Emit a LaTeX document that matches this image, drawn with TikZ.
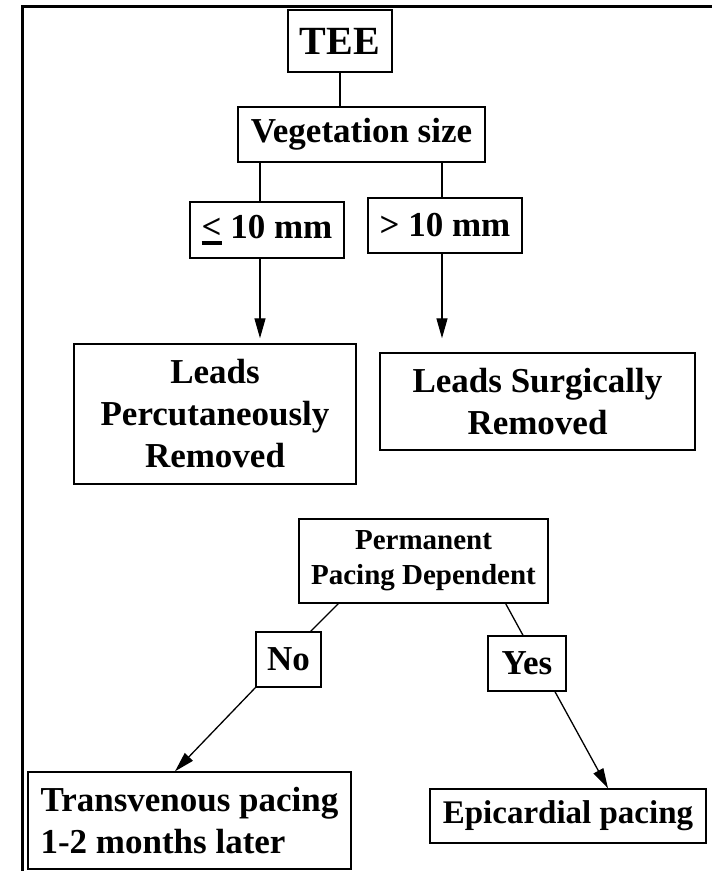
\documentclass[tikz,border=0pt]{standalone}
\usepackage{fontspec}
\setmainfont{Liberation Serif}
\usetikzlibrary{arrows.meta, positioning, calc}
\tikzset{
  bx/.style={rectangle, draw=black, line width=1.4pt, inner sep=0pt,
    align=center, font=\bfseries\fontsize{35}{42}\selectfont},
  bxS/.style={bx, font=\bfseries\fontsize{29}{35}\selectfont},
  bxL/.style={bx, font=\bfseries\fontsize{40}{48}\selectfont},
  ln/.style={line width=1.3pt},
  arr/.style={ln, -{Triangle[length=20pt, width=11pt]}},
}

\begin{document}
\begin{tikzpicture}[x=1pt, y=-1pt]
  \useasboundingbox (0,0) rectangle (712,871);
  \draw[line width=3pt] (22,871) -- (22,6) -- (712,6);

  % removal part
  \node[bxL, minimum width=104pt, minimum height=62pt] (tee) at (340,41) {TEE};
  \node[bx, minimum width=247pt, minimum height=55pt] (veg) at (361.5,134.5)
       {Vegetation size};
  \node[bx, minimum width=154pt, minimum height=56pt] (le) at (267,230)
       {\rlap{\rule[-7pt]{20pt}{4pt}}< 10 mm};
  \node[bx, minimum width=154pt, minimum height=55pt] (gt) at (445,225.5)
       {> 10 mm};
  \node[bx, minimum width=282pt, minimum height=140pt] (pct) at (215,414)
       {Leads\\Percutaneously\\Removed};
  \node[bx, minimum width=315pt, minimum height=97pt] (srg) at (537.5,401.5)
       {Leads Surgically\\Removed};

  % pacing part
  \node[bxS, minimum width=249pt, minimum height=84pt] (perm) at (423.5,561)
       {Permanent\\Pacing Dependent};
  \node[bx, minimum width=65pt, minimum height=55pt] (no) at (288.5,659.5) {No};
  \node[bx, minimum width=78pt, minimum height=55pt] (yes) at (527,663.5) {Yes};
  \node[bx, align=left, minimum width=323pt, minimum height=97pt] (trv) at (189.5,820.5)
       {Transvenous pacing\\1-2 months later};
  \node[bx, font=\bfseries\fontsize{33}{40}\selectfont,
        minimum width=276pt, minimum height=54pt] (epi) at (568,816)
       {Epicardial pacing};

  \draw[ln] (tee.south) -- (tee.south |- veg.north);
  \draw[ln] ([xshift=-7pt]le.north |- veg.south) -- ([xshift=-7pt]le.north);
  \draw[ln] ([xshift=-3pt]gt.north |- veg.south) -- ([xshift=-3pt]gt.north);
  \draw[arr, shorten >=5pt] ([xshift=-7pt]le.south) -- ([xshift=-7pt]le.south |- pct.north);
  \draw[arr, shorten >=14pt] ([xshift=-3pt]gt.south) -- ([xshift=-3pt]gt.south |- srg.north);

  \draw[ln] ([xshift=40pt]perm.south west) -- ([xshift=-11pt]no.north east);
  \draw[ln] ([xshift=-43pt]perm.south east) -- ([xshift=-4pt]yes.north);
  \draw[arr] (no.south west) -- ([xshift=-14.5pt]trv.north);
  \draw[arr] ([xshift=28pt]yes.south) -- ([xshift=40pt]epi.north);
\end{tikzpicture}
\end{document}
